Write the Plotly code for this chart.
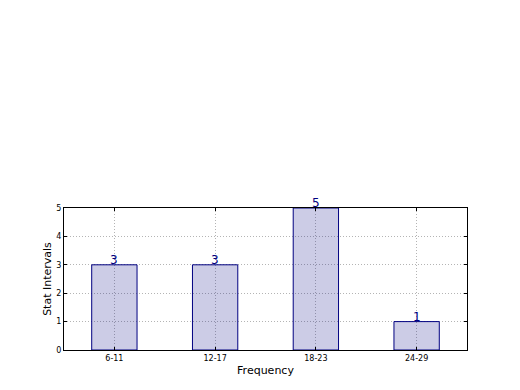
import plotly.graph_objects as go

categories = ["6-11", "12-17", "18-23", "24-29"]
counts = [3, 3, 5, 1]
y_ticks = [0, 1, 2, 3, 4, 5]

fig = go.Figure()
fig.add_trace(go.Bar(
    x=list(range(len(categories))), y=counts, width=0.45,
    marker=dict(color="rgba(0,0,128,0.2)", line=dict(color="#000080", width=1)),
    showlegend=False,
))
for i, v in enumerate(counts):
    fig.add_annotation(x=i, y=v, text=str(v), showarrow=False, yanchor="bottom",
                       yshift=-4, font=dict(family="DejaVu Sans", size=12, color="#000080"))

axis_common = dict(showline=True, linecolor="black", linewidth=1, mirror="allticks",
                   ticks="inside", ticklen=3, tickcolor="black",
                   showgrid=True, gridcolor="#b4b4b4", griddash="1px,2px", gridwidth=1,
                   zeroline=False, layer="above traces",
                   tickfont=dict(family="DejaVu Sans", size=8, color="black"))
fig.update_layout(
    width=520, height=390, plot_bgcolor="white", paper_bgcolor="white",
    margin=dict(l=64, r=53, t=208, b=40),
    xaxis=dict(range=[-0.5, 3.5], tickvals=list(range(len(categories))), ticktext=categories,
               title=dict(text="Frequency", font=dict(family="DejaVu Sans", size=11, color="black"), standoff=4),
               **axis_common),
    yaxis=dict(range=[0, 5], tickvals=y_ticks,
               title=dict(text="Stat Intervals", font=dict(family="DejaVu Sans", size=11, color="black"), standoff=2),
               **axis_common),
)
fig.write_html("out.html")
